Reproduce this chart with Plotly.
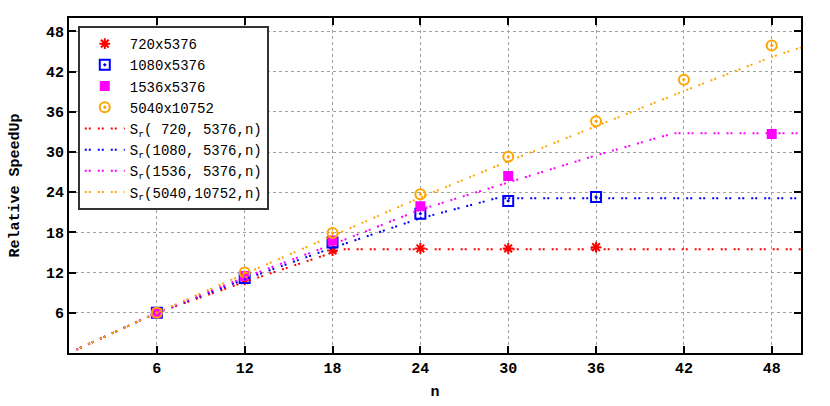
import plotly.graph_objects as go

# measured speedups (points)
n_720 = [6, 12, 18, 24, 30, 36]
s_720 = [6.0, 10.9, 15.3, 15.6, 15.6, 15.8]
n_1080 = [6, 12, 18, 24, 30, 36]
s_1080 = [6.0, 11.2, 16.5, 20.8, 22.7, 23.3]
n_1536 = [6, 12, 18, 24, 30, 48]
s_1536 = [6.0, 11.5, 16.8, 21.9, 26.4, 32.7]
n_5040 = [6, 12, 18, 24, 30, 36, 42, 48]
s_5040 = [6.0, 12.0, 17.9, 23.7, 29.3, 34.6, 40.8, 45.9]

# model curves S_r(p, q, n)
m_n_720 = [0.5, 6, 12, 18, 18.7, 50]
m_s_720 = [0.5, 6.0, 10.6, 15.0, 15.5, 15.5]
m_n_1080 = [0.5, 6, 12, 18, 24, 29.2, 50]
m_s_1080 = [0.5, 6.0, 11.0, 15.7, 20.1, 23.1, 23.1]
m_n_1536 = [0.5, 6, 12, 18, 24, 30, 36, 41.3, 50]
m_s_1536 = [0.5, 6.0, 11.3, 16.2, 21.4, 25.4, 29.5, 32.8, 32.8]
m_n_5040 = [0.5, 6, 12, 18, 24, 30, 36, 42, 48, 50]
m_s_5040 = [0.5, 6.0, 11.8, 17.5, 23.2, 28.6, 33.9, 39.1, 44.2, 45.6]

x_ticks = [6, 12, 18, 24, 30, 36, 42, 48]
y_ticks = [6, 12, 18, 24, 30, 36, 42, 48]

RED = "#ff0000"
BLUE = "#0000ff"
MAGENTA = "#ff00ff"
ORANGE = "#ffa500"
FONT = "Liberation Mono"
DASH = "2px,2px,2px,7px"
NB = "\u00a0"

fig = go.Figure()

points = [
    ("720x5376", n_720, s_720, RED, "asterisk-open", 9),
    ("1080x5376", n_1080, s_1080, BLUE, "square-open-dot", 10),
    ("1536x5376", n_1536, s_1536, MAGENTA, "square", 8),
    ("5040x10752", n_5040, s_5040, ORANGE, "circle-open-dot", 10),
]
for name, xs, ys, color, symbol, size in points:
    fig.add_trace(go.Scatter(
        x=xs, y=ys, mode="markers", name=name,
        marker={"symbol": symbol, "size": size, "color": color,
                "line": {"color": color, "width": 2}},
    ))

curves = [
    (f"S<sub>r</sub>({NB}720,{NB}5376,n)", m_n_720, m_s_720, RED),
    (f"S<sub>r</sub>(1080,{NB}5376,n)", m_n_1080, m_s_1080, BLUE),
    (f"S<sub>r</sub>(1536,{NB}5376,n)", m_n_1536, m_s_1536, MAGENTA),
    ("S<sub>r</sub>(5040,10752,n)", m_n_5040, m_s_5040, ORANGE),
]
for name, xs, ys, color in curves:
    fig.add_trace(go.Scatter(
        x=xs, y=ys, mode="lines", name=name,
        line={"color": color, "width": 2, "dash": DASH},
    ))

axis_common = dict(
    automargin=False,
    showgrid=True,
    gridcolor="#a0a0a0",
    griddash="dot",
    gridwidth=1,
    showline=True,
    linecolor="#000000",
    linewidth=2,
    mirror="ticks",
    ticks="inside",
    ticklen=7,
    tickwidth=2,
    tickcolor="#000000",
    zeroline=False,
    tickfont={"family": FONT, "size": 15, "color": "#000000", "weight": "bold"},
)

fig.update_layout(
    width=830,
    height=406,
    paper_bgcolor="white",
    plot_bgcolor="white",
    margin={"l": 69, "r": 29, "t": 18, "b": 53},
    font={"family": FONT, "size": 15, "color": "#000000"},
    xaxis=dict(
        axis_common,
        range=[0, 50],
        tickvals=x_ticks,
        title={"text": "<b>n</b>", "font": {"family": FONT, "size": 15}, "standoff": 8},
    ),
    yaxis=dict(
        axis_common,
        range=[0, 50],
        tickvals=y_ticks,
        title={"text": "<b>Relative SpeedUp</b>", "font": {"family": FONT, "size": 15}, "standoff": 23},
    ),
    legend={
        "x": 0.012,
        "y": 0.976,
        "xanchor": "left",
        "yanchor": "top",
        "bgcolor": "white",
        "bordercolor": "#333333",
        "borderwidth": 2,
        "font": {"family": FONT, "size": 14, "color": "#000000"},
        "tracegroupgap": 0,
        "itemwidth": 40,
    },
    showlegend=True,
)

# drop the browser's default body margin so the figure sits at the page corner
fig.write_html(
    "out.html",
    config={"displayModeBar": False},
    post_script="document.body.style.margin = '0';",
)
